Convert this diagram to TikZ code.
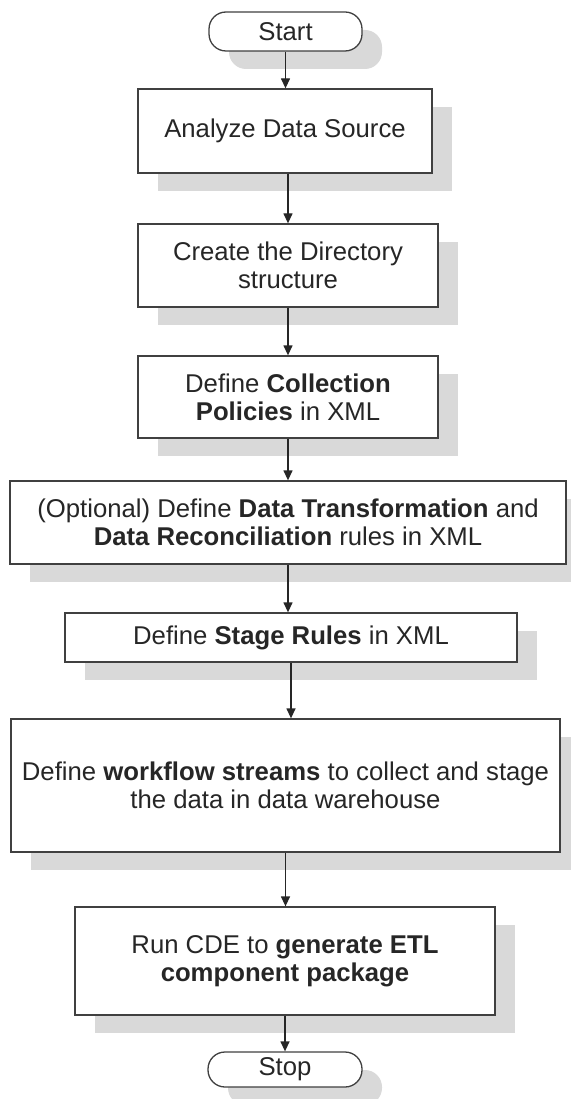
\documentclass[tikz,border=0pt]{standalone}
\usepackage{fontspec}
\setmainfont{Liberation Sans}
\usetikzlibrary{arrows.meta,shadows}

\definecolor{boxline}{HTML}{404040}
\definecolor{shadowgray}{HTML}{D9D9D9}
\definecolor{textgray}{HTML}{262626}

\tikzset{
	stepbox/.style={draw=boxline, line width=1.3pt, fill=white, inner sep=0pt,
		align=center, text=textgray, font=\fontsize{25.7}{28}\selectfont,
		drop shadow={shadow xshift=20pt, shadow yshift=-18pt, opacity=1, fill=shadowgray}},
	terminal/.style={stepbox, rounded corners=17pt},
	flow/.style={line width=1.3pt, draw=black!85, -{Triangle[length=10pt,width=9pt]}}
}

\begin{document}
\begin{tikzpicture}[x=1pt,y=-1pt]
		\useasboundingbox (0,0) rectangle (570,1099);
		% start and stop
		\node[terminal, minimum width=153pt, minimum height=39pt] (start) at (285.5,31.5) {Start};
		\node[terminal, minimum width=154pt, minimum height=35pt] (stop) at (285,1069.5) {Stop};
		% steps
		\node[stepbox, minimum width=294pt, minimum height=84pt] (analyze) at (285,131)
			{Analyze Data Source};
		\node[stepbox, minimum width=300pt, minimum height=83pt] (create) at (288,265.5)
			{Create the Directory\\structure};
		\node[stepbox, minimum width=300pt, minimum height=82pt] (collect) at (288,397)
			{Define \textbf{Collection}\\\textbf{Policies} in XML};
		\node[stepbox, minimum width=556pt, minimum height=83pt] (optional) at (288,522.5)
			{(Optional) Define \textbf{Data Transformation} and\\\textbf{Data Reconciliation} rules in XML};
		\node[stepbox, minimum width=452pt, minimum height=49pt] (stage) at (291,637.5)
			{Define \textbf{Stage Rules} in XML};
		\node[stepbox, minimum width=549pt, minimum height=133pt] (workflow) at (285.5,785.5)
			{Define \textbf{workflow streams} to collect and stage\\the data in data warehouse};
		\node[stepbox, minimum width=420pt, minimum height=108pt] (run) at (285,961)
			{Run CDE to \textbf{generate ETL}\\\textbf{component package}};
		% connectors
		\foreach \a/\b in {start/analyze,collect/optional,optional/stage,stage/workflow,workflow/run,run/stop}
			\draw[flow] (\a.south) -- (\a.south |- \b.north);
		\foreach \a/\b in {analyze/create,create/collect}
			\draw[flow] (\a.south -| \b.north) -- (\b.north);
\end{tikzpicture}
\end{document}
